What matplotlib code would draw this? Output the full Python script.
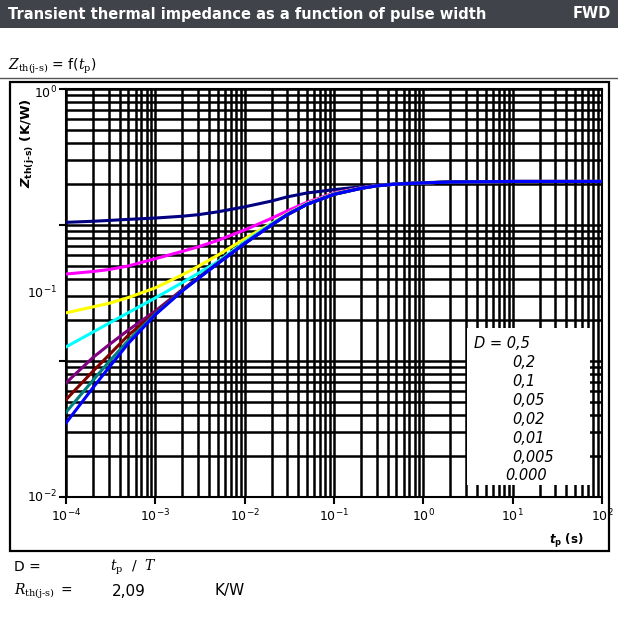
import matplotlib
matplotlib.use('Agg')
from matplotlib import pyplot as plt
from matplotlib.patches import Rectangle
from matplotlib.lines import Line2D

# pulse width (s)
tp = [1e-4, 2e-4, 3e-4, 5e-4, 1e-3, 2e-3, 3e-3, 5e-3, 1e-2, 2e-2,
      3e-2, 5e-2, 1e-1, 2e-1, 3e-1, 5e-1, 1, 2, 10, 100]

# Zth(j-s) in K/W for each duty cycle
z_05 = [1.046, 1.065, 1.08, 1.10, 1.125, 1.16, 1.19, 1.25, 1.36, 1.50,
        1.61, 1.72, 1.82, 1.91, 1.96, 2.01, 2.05, 2.07, 2.09, 2.09]
z_02 = [0.436, 0.455, 0.47, 0.50, 0.565, 0.64, 0.69, 0.77, 0.92, 1.12,
        1.27, 1.47, 1.72, 1.88, 1.95, 2.00, 2.04, 2.07, 2.09, 2.09]
z_01 = [0.226, 0.25, 0.265, 0.293, 0.345, 0.43, 0.495, 0.60, 0.79, 1.03,
        1.21, 1.44, 1.70, 1.87, 1.945, 2.00, 2.04, 2.07, 2.09, 2.09]
z_005 = [0.127, 0.163, 0.189, 0.227, 0.291, 0.377, 0.44, 0.537, 0.75, 1.02,
         1.20, 1.43, 1.69, 1.865, 1.94, 2.00, 2.04, 2.07, 2.09, 2.09]
z_002 = [0.069, 0.106, 0.131, 0.169, 0.233, 0.335, 0.408, 0.525, 0.733, 1.0,
         1.19, 1.42, 1.68, 1.86, 1.94, 2.00, 2.04, 2.07, 2.09, 2.09]
z_001 = [0.052, 0.084, 0.110, 0.155, 0.226, 0.332, 0.406, 0.523, 0.732, 1.0,
         1.19, 1.42, 1.68, 1.86, 1.94, 2.00, 2.04, 2.07, 2.09, 2.09]
z_0005 = [0.042, 0.072, 0.098, 0.142, 0.222, 0.329, 0.404, 0.521, 0.731, 1.0,
          1.19, 1.42, 1.68, 1.86, 1.94, 2.00, 2.04, 2.07, 2.09, 2.09]
z_0 = [0.035, 0.0635, 0.089, 0.135, 0.219, 0.327, 0.403, 0.52, 0.73, 1.0,
       1.19, 1.42, 1.68, 1.86, 1.94, 2.00, 2.04, 2.07, 2.09, 2.09]

series = [z_05, z_02, z_01, z_005, z_002, z_001, z_0005, z_0]
colors = ['#000080', '#ff00ff', '#ffff00', '#00ffff',
          '#800080', '#800000', '#008080', '#0000ff']
legend_labels = ['D = 0,5', '0,2', '0,1', '0,05', '0,02', '0,01', '0,005', '0.000']

xticks = [1e-4, 1e-3, 1e-2, 1e-1, 1e0, 1e1, 1e2]
xtick_labels = ['$10^{-4}$', '$10^{-3}$', '$10^{-2}$', '$10^{-1}$',
                '$10^{0}$', '$10^{1}$', '$10^{2}$']
yticks = [1e-2, 1e-1, 1e0, 1e1]
ytick_labels = ['$10^{-2}$', '$10^{-1}$', '$10^{0}$']

plt.rcParams['font.family'] = ['DejaVu Sans']
plt.rcParams['mathtext.fontset'] = 'dejavusans'

W, H = 618, 626
fig = plt.figure(figsize=(W / 100, H / 100), dpi=100)

def fx(px):
    return px / W

def fy(py):
    return 1 - py / H

ZSUB = '$Z_{\\rm th(j\u2010s)}$'
RSUB = '$R_{\\rm th(j\u2010s)}$'

# header bar
fig.add_artist(Rectangle((0, fy(28)), 1, 28 / H, transform=fig.transFigure,
                         facecolor='#404349', edgecolor='none'))
fig.text(fx(8), fy(14), 'Transient thermal impedance as a function of pulse width',
         color='white', fontsize=10.5, fontweight='bold', va='center')
fig.text(fx(611), fy(14), 'FWD', color='white', fontsize=10.5,
         fontweight='bold', va='center', ha='right')

# sub title with separator
fig.text(fx(8), fy(66), ZSUB + ' = f($t_{\\rm p}$)', fontsize=10,
         va='center', math_fontfamily='dejavuserif')
fig.add_artist(Line2D([0, 1], [fy(78), fy(78)], transform=fig.transFigure,
                      color='#555555', lw=1))

# outer frame
fig.add_artist(Rectangle((fx(10), fy(551)), (609 - 10) / W, (551 - 82) / H,
                         transform=fig.transFigure, facecolor='none',
                         edgecolor='black', lw=1.6))

ax = fig.add_axes([fx(66), fy(497), (602 - 66) / W, (497 - 89) / H])
ax.set_xscale('log')
ax.set_yscale('log')
ax.set_xlim(1e-4, 1e2)
ax.set_ylim(1e-2, 1e1)
ax.set_axisbelow(True)
ax.grid(True, which='both', color='black', lw=1.8)

for z, c in zip(series, colors):
    ax.plot(tp, z, color=c, lw=2.2, zorder=3, solid_joinstyle='round')

ax.set_xticks(xticks)
ax.set_xticklabels(xtick_labels, fontsize=9)
ax.set_yticks(yticks)
ax.set_yticklabels([])
ax.tick_params(which='major', length=5, width=1.5, direction='out', pad=3)
ax.tick_params(which='minor', length=0)
for sp in ax.spines.values():
    sp.set_linewidth(1.5)

# y labels are spread evenly along the axis like in the source
for yf, lab in zip([0.0, 0.5, 0.99], ytick_labels):
    ax.text(-0.017, yf, lab, transform=ax.transAxes, ha='right', va='center',
            fontsize=9)

# white legend block
ax.add_patch(Rectangle((0.748, 0.029), 0.23, 0.385, transform=ax.transAxes,
                       facecolor='white', edgecolor='none', zorder=1))
leg_x = [0.761] + [0.832] * 6 + [0.820]
for i, lab in enumerate(legend_labels):
    ax.text(leg_x[i], 0.377 - i * 0.0465, lab, transform=ax.transAxes,
            fontsize=10.5, style='italic', va='center', zorder=4)

# axis titles
plt.rcParams['mathtext.fontset'] = 'custom'
plt.rcParams['mathtext.it'] = 'DejaVu Sans:italic:bold'
plt.rcParams['mathtext.rm'] = 'DejaVu Sans:bold'
fig.text(fx(28), fy(143), ZSUB + ' (K/W)', rotation=90,
         fontsize=9.5, fontweight='bold', ha='center', va='center',
         math_fontfamily='custom')
fig.text(fx(566), fy(541), '$t_{\\rm p}$ (s)', fontsize=8.5, fontweight='bold',
         ha='center', va='center', math_fontfamily='custom')

# notes under the chart
fig.text(fx(14), fy(567), 'D =', fontsize=10, va='center')
fig.text(fx(110), fy(567), '$t_{\\rm p}$  /  $T$', fontsize=10, va='center',
         math_fontfamily='dejavuserif')
fig.text(fx(14), fy(591), RSUB, fontsize=10, va='center',
         math_fontfamily='dejavuserif')
fig.text(fx(61), fy(591), '=', fontsize=10, va='center')
fig.text(fx(112), fy(591), '2,09', fontsize=11, va='center')
fig.text(fx(214), fy(591), 'K/W', fontsize=11, va='center')

fig.savefig('out.png', dpi=100)
